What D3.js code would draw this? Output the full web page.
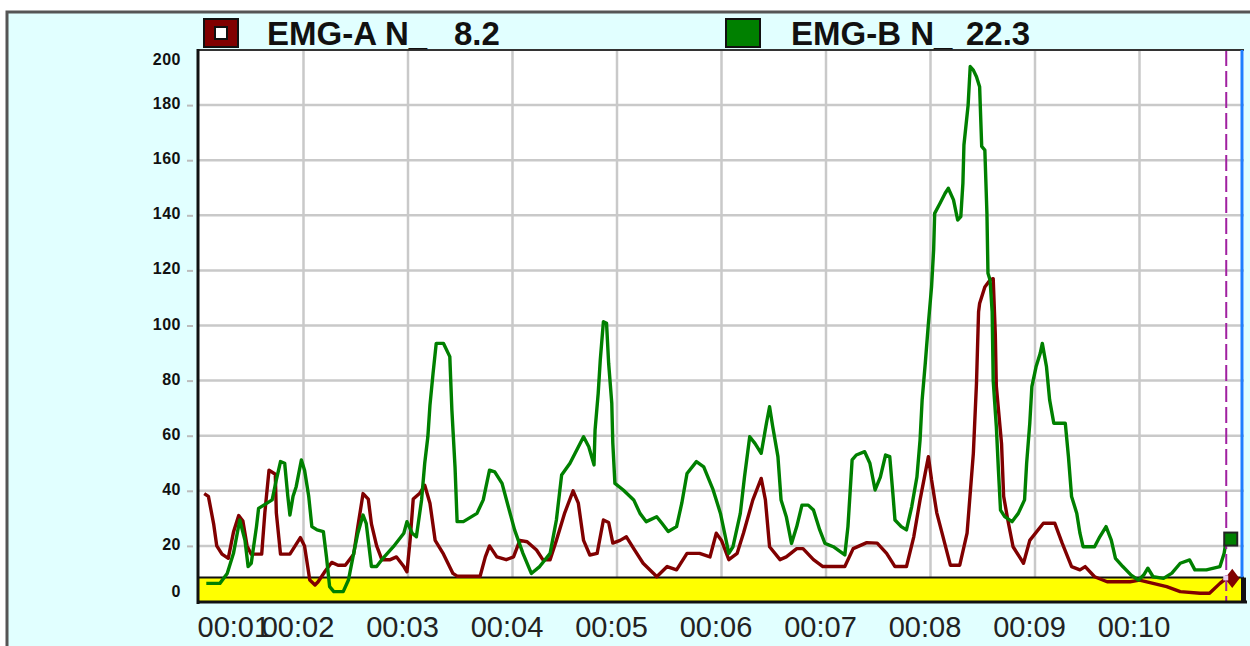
<!DOCTYPE html>
<html><head><meta charset="utf-8">
<script src="https://cdn.jsdelivr.net/npm/d3@7/dist/d3.min.js"></script>
<style>body{margin:0;background:#fff;overflow:hidden}</style>
</head><body><svg id="c" width="1250" height="646"></svg>
<script>
// ---- data ----
const seriesNames = ["EMG-A N_", "EMG-B N_"];
const seriesColors = ["#800000", "#008000"];
const cursorTime = 10.83;
const cursorValues = [8.2, 22.3];
const thresholdValue = 8.5;
const xTickValues = [1,2,3,4,5,6,7,8,9,10];
const xTickLabels = ["00:01","00:02","00:03","00:04","00:05","00:06","00:07","00:08","00:09","00:10"];
const yTickValues = [0,20,40,60,80,100,120,140,160,180,200];

const emgATimes = [1.05,1.09,1.14,1.17,1.22,1.28,1.33,1.38,1.42,1.46,1.50,1.60,1.63,1.67,1.73,1.74,1.78,1.87,1.97,2.01,2.06,2.11,2.14,2.21,2.27,2.33,2.40,2.48,2.52,2.57,2.62,2.65,2.70,2.75,2.83,2.89,2.96,2.99,3.02,3.05,3.11,3.16,3.21,3.26,3.34,3.43,3.47,3.69,3.74,3.78,3.85,3.94,4.01,4.07,4.14,4.23,4.29,4.36,4.42,4.50,4.58,4.63,4.68,4.74,4.81,4.87,4.92,4.96,5.03,5.09,5.16,5.25,5.35,5.38,5.48,5.57,5.67,5.79,5.89,5.95,6.00,6.07,6.15,6.21,6.30,6.38,6.42,6.46,6.56,6.62,6.72,6.78,6.88,6.97,7.18,7.26,7.39,7.49,7.58,7.66,7.77,7.84,7.90,7.98,8.01,8.06,8.12,8.19,8.28,8.35,8.41,8.44,8.46,8.47,8.52,8.57,8.60,8.62,8.63,8.68,8.70,8.74,8.79,8.89,8.95,9.08,9.19,9.26,9.35,9.43,9.48,9.57,9.69,9.91,10.00,10.13,10.26,10.39,10.58,10.67,10.77,10.83];
const emgAValues = [39,38,28,20,17,15.5,25,31,29,20,17,17,32,47.5,46,32,17,17,23,20,7.6,5.8,7,11,14,13,13,17,27,39,37,28,20,15,15,16,12.5,10.6,22,37,39,42,35.5,22,17,10,9,9,16,20,16,15,16,22,21.5,18.5,15,15,22,32,40,35.5,22,16.7,17.3,29.4,28.5,21,22,23.3,19,13.7,10,8.8,12.5,11.3,17.3,17.3,16,24.6,22,15,17.3,24.6,36.7,44.5,36.7,19.7,15,16,19,19,15,12.5,12.5,19,21.2,21,17.3,12.5,12.5,23.3,36.7,52.4,44,32,23.3,13,13,24.6,53.6,79,105,108,114,116.5,117,97,78,57,38,29.4,19.7,13.7,22,28.2,28.2,21,12.5,11.3,12.5,8.8,7,7,7.6,6.4,5.2,3.4,2.8,2.8,6.4,8.2];

const emgBTimes = [1.07,1.20,1.27,1.33,1.39,1.44,1.47,1.50,1.55,1.57,1.62,1.70,1.74,1.78,1.82,1.85,1.87,1.90,1.93,1.98,2.01,2.05,2.08,2.13,2.19,2.22,2.25,2.29,2.38,2.43,2.48,2.52,2.57,2.60,2.65,2.70,2.76,2.86,2.96,2.99,3.04,3.08,3.13,3.16,3.19,3.21,3.24,3.27,3.34,3.40,3.42,3.45,3.47,3.53,3.66,3.72,3.78,3.83,3.90,3.96,4.02,4.10,4.18,4.26,4.36,4.42,4.47,4.55,4.68,4.73,4.78,4.79,4.82,4.84,4.87,4.90,4.92,4.95,4.96,4.98,5.06,5.16,5.22,5.28,5.38,5.43,5.49,5.57,5.62,5.67,5.76,5.83,5.92,5.99,6.03,6.07,6.11,6.18,6.22,6.27,6.32,6.38,6.43,6.46,6.49,6.54,6.57,6.62,6.67,6.72,6.77,6.83,6.88,6.94,6.99,7.07,7.18,7.21,7.25,7.29,7.37,7.42,7.47,7.52,7.57,7.61,7.64,7.66,7.72,7.77,7.82,7.87,7.90,7.92,7.95,7.98,8.01,8.03,8.04,8.09,8.14,8.17,8.22,8.26,8.29,8.31,8.32,8.36,8.38,8.41,8.44,8.47,8.49,8.52,8.54,8.55,8.57,8.59,8.60,8.63,8.65,8.67,8.71,8.78,8.84,8.90,8.92,8.95,8.97,9.01,9.05,9.07,9.11,9.14,9.18,9.29,9.32,9.35,9.40,9.43,9.46,9.57,9.62,9.68,9.73,9.77,9.84,9.92,9.99,10.04,10.08,10.13,10.23,10.31,10.39,10.48,10.53,10.64,10.77,10.81,10.83];
const emgBValues = [6.4,6.4,10,17.3,29.4,22,12.5,13.7,27,33.6,34.8,36.7,44,50.6,50,38,31.2,38,41.5,51.2,47.5,38,27,25.8,25.2,16,5.2,3.4,3.4,7.6,17.3,24.6,31.2,28.2,12.5,12.5,15.5,19.7,24.6,28.8,24.6,23.3,36.7,50,59.6,71,82.7,93.5,93.5,88.7,69.3,48.7,28.8,28.8,31.8,36.7,47.5,46.9,42.7,34.2,25.8,17.3,10,12.5,17.3,29.4,45.7,50,59.6,56,49.4,62,75.4,87.5,101.4,100.8,86.3,71.8,57.2,42.7,40.3,36.7,31.8,28.8,30.6,28.2,25.2,27,35.5,46.3,50.6,48.7,40.3,31.8,24.6,17.3,19.7,31.8,45,59.6,57.2,53.6,64.5,70.5,63.3,52.4,36.7,30.6,20.9,27,34.8,34.8,33,25.8,20.9,19.7,16.7,27,51.2,53,54.2,50,40.3,45,53,52.4,39,29.4,27,25.8,34.2,45,58.4,73,86.3,100.8,114,127.4,140.7,144.3,148,149.8,145.6,138.3,139.5,151.6,165.5,180,194,192.7,190.3,186.7,165,163.7,140.7,119,116.5,105,80,63.3,47.5,33,30.6,28.8,31.8,36.7,50,64.5,77.8,85,89.9,93.5,85,73,64.5,64.5,52.4,37.9,31.8,24.6,19.7,19.7,23.3,27,22.1,15.5,12.5,9.4,7.6,9.4,11.9,8.8,8.2,10.1,13.7,14.9,11.3,11.3,12.5,17.3,22.3];

// ---- layout ----
const svg = d3.select("#c");
const L = 199, R = 1244, T = 50, B = 601;
const x = d3.scaleLinear().domain([1, 11]).range([L, R]);
const y = d3.scaleLinear().domain([0, 200]).range([B, T]);

// outer frame
svg.append("rect").attr("x", 7).attr("y", 12).attr("width", 1300).attr("height", 700)
  .attr("fill", "#e1ffff").attr("stroke", "#555").attr("stroke-width", 3);

// plot background
svg.append("rect").attr("x", L).attr("y", T).attr("width", R - L).attr("height", B - T).attr("fill", "#fff");

// grid
const grid = svg.append("g").attr("stroke", "#c9c9c9").attr("stroke-width", 2.5);
grid.selectAll("line.h").data(yTickValues.filter(v => v > 0 && v < 200)).join("line")
  .attr("x1", L).attr("x2", R).attr("y1", d => y(d)).attr("y2", d => y(d));
grid.selectAll("line.v").data(xTickValues.filter(v => v > 1)).join("line")
  .attr("class", "v")
  .attr("y1", T).attr("y2", B).attr("x1", d => x(d)).attr("x2", d => x(d));

// threshold band
svg.append("rect").attr("x", L).attr("y", y(thresholdValue)).attr("width", R - L)
  .attr("height", y(0) - y(thresholdValue)).attr("fill", "#ffff00");
svg.append("line").attr("x1", L).attr("x2", R).attr("y1", y(thresholdValue)).attr("y2", y(thresholdValue))
  .attr("stroke", "#111").attr("stroke-width", 2);

// lines
const line = d3.line().x(d => x(d[0])).y(d => y(d[1]));
const seriesData = [d3.zip(emgATimes, emgAValues), d3.zip(emgBTimes, emgBValues)];
seriesData.forEach((s, i) => {
  svg.append("path").datum(s).attr("d", line).attr("fill", "none")
    .attr("stroke", seriesColors[i]).attr("stroke-width", 3.4).attr("stroke-linejoin", "round");
});

// cursor
svg.append("line").attr("x1", x(cursorTime)).attr("x2", x(cursorTime)).attr("y1", T).attr("y2", B + 2)
  .attr("stroke", "#a020a0").attr("stroke-width", 2).attr("stroke-dasharray", "16,5");

// borders
svg.append("line").attr("x1", L - 1).attr("x2", R).attr("y1", T).attr("y2", T).attr("stroke", "#333").attr("stroke-width", 2);
svg.append("line").attr("x1", L - 1).attr("x2", L - 1).attr("y1", T - 1).attr("y2", B + 3).attr("stroke", "#111").attr("stroke-width", 3);
svg.append("line").attr("x1", L - 2).attr("x2", R + 3).attr("y1", B + 1).attr("y2", B + 1).attr("stroke", "#111").attr("stroke-width", 3);
svg.append("line").attr("x1", R - 2).attr("x2", R - 2).attr("y1", T).attr("y2", y(thresholdValue)).attr("stroke", "#1e7fff").attr("stroke-width", 3);
svg.append("rect").attr("x", R - 3).attr("y", y(thresholdValue)).attr("width", 5).attr("height", B + 2 - y(thresholdValue)).attr("fill", "#111");

// cursor markers
svg.append("path").attr("d", d3.symbol(d3.symbolDiamond, 130)())
  .attr("transform", `translate(${x(cursorTime) + 6},${y(cursorValues[0])}) scale(1.2,0.9)`).attr("fill", seriesColors[0]);
svg.append("rect").attr("x", x(cursorTime) - 3).attr("y", y(cursorValues[0]) - 3).attr("width", 5).attr("height", 5).attr("fill", "#e8d0f0");
svg.append("rect").attr("x", x(cursorTime) - 2).attr("y", y(cursorValues[1]) - 7).attr("width", 13).attr("height", 13)
  .attr("fill", seriesColors[1]).attr("stroke", "#222").attr("stroke-width", 2);

// y axis
const yAxis = svg.append("g").attr("transform", `translate(${L - 6},0)`)
  .call(d3.axisLeft(y).tickValues(yTickValues).tickSize(6).tickPadding(6).tickFormat(d3.format("d")));
yAxis.select(".domain").remove();
yAxis.selectAll(".tick line").attr("stroke", "#bbb").attr("stroke-width", 2)
  .attr("display", d => (d === 0 || d === 200) ? "none" : null);
yAxis.selectAll(".tick text").attr("fill", "#111")
  .style("font-family", "'Liberation Sans', Arial, sans-serif").style("font-weight", "bold")
  .style("font-size", "16px").style("letter-spacing", "0.5px")
  .attr("dy", d => d === 200 ? "0.9em" : d === 0 ? "-0.3em" : "0.22em");

// x axis
const xAxis = svg.append("g").attr("transform", `translate(0,${B + 2})`)
  .call(d3.axisBottom(x).tickValues(xTickValues).tickSize(0).tickPadding(13).tickFormat((d, i) => xTickLabels[i]));
xAxis.select(".domain").remove();
xAxis.selectAll(".tick text").attr("fill", "#222")
  .style("font-family", "'Liberation Sans', Arial, sans-serif").style("font-size", "29px")
  .attr("text-anchor", (d, i) => i === 0 ? "start" : "middle")
  .attr("dx", (d, i) => i === 0 ? -2 : -6);

// legend
const legendBoxX = [204, 726];
const legendTextX = [267, 791];
const legendValueX = [454, 966];
seriesNames.forEach((name, i) => {
  const g = svg.append("g");
  g.append("rect").attr("x", legendBoxX[i]).attr("y", 19).attr("width", 34).attr("height", 28)
    .attr("fill", seriesColors[i]).attr("stroke", "#111").attr("stroke-width", 2);
  if (i === 0) {
    g.append("rect").attr("x", legendBoxX[i] + 11).attr("y", 27).attr("width", 12).attr("height", 12)
      .attr("fill", "#fff").attr("stroke", "#111").attr("stroke-width", 2);
  }
  g.append("text").attr("x", legendTextX[i]).attr("y", 45).text(name)
    .style("font-family", "'Liberation Sans', Arial, sans-serif").style("font-weight", "bold").style("font-size", "33px").attr("fill", "#111");
  g.append("text").attr("x", legendValueX[i]).attr("y", 45).text(d3.format(".1f")(cursorValues[i]))
    .style("font-family", "'Liberation Sans', Arial, sans-serif").style("font-weight", "bold").style("font-size", "33px").attr("fill", "#111");
});
</script></body></html>
